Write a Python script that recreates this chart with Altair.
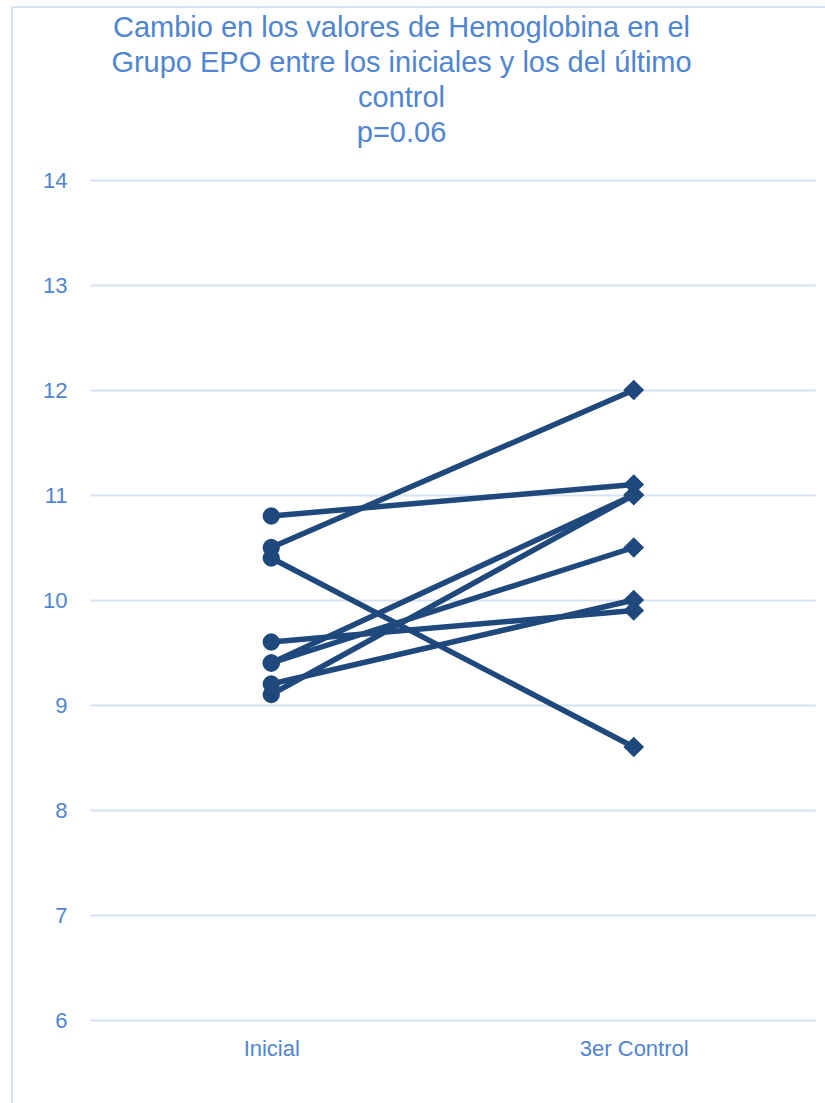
import altair as alt
import pandas as pd

# Hemoglobin (g/dL) per patient of the EPO group: baseline and last control
momentos = ["Inicial", "3er Control"]
inicial = [10.8, 10.5, 10.4, 9.6, 9.4, 9.4, 9.2, 9.1]
control3 = [11.1, 12.0, 8.6, 9.9, 11.0, 10.5, 10.0, 11.0]
y_ticks = [6, 7, 8, 9, 10, 11, 12, 13, 14]

titulo = [
    "Cambio en los valores de Hemoglobina en el",
    "Grupo EPO entre los iniciales y los del último",
    "control",
    "p=0.06",
]

rows = []
for i, (a, b) in enumerate(zip(inicial, control3)):
    rows.append({"paciente": i, "momento": momentos[0], "hb": a})
    rows.append({"paciente": i, "momento": momentos[1], "hb": b})
df = pd.DataFrame(rows)

LINE = "#1f497d"
TEXT = "#4f85d1"
GRID = "#d6e2f3"
FONT = "Liberation Sans"

x = alt.X(
    "momento:N",
    sort=momentos,
    scale=alt.Scale(type="point", padding=0.5),
    axis=alt.Axis(
        title=None, labelAngle=0, ticks=False, domain=False, grid=False,
        labelFontSize=22, labelColor=TEXT, labelFont=FONT, labelPadding=18,
    ),
)
y = alt.Y(
    "hb:Q",
    scale=alt.Scale(domain=[6, 14], nice=False, zero=False),
    axis=alt.Axis(
        title=None, values=y_ticks, ticks=False, domain=False, grid=True,
        gridColor=GRID, gridWidth=2, labelFontSize=22, labelColor=TEXT,
        labelFont=FONT, labelPadding=23,
    ),
)

base = alt.Chart(df)

# light outer border around the whole chart
frame = base.mark_rect(filled=False, stroke=GRID, strokeWidth=2).encode(
    x=alt.value(-78), x2=alt.value(760), y=alt.value(-173), y2=alt.value(960)
).transform_filter(alt.datum.paciente == 0).transform_filter(
    alt.datum.momento == momentos[0]
)

lines = base.mark_line(color=LINE, strokeWidth=5.5).encode(
    x=x, y=y, detail="paciente:N", order=alt.Order("momento:N", sort="descending")
)

start = base.transform_filter(alt.datum.momento == momentos[0]).mark_point(
    shape="circle", filled=True, color=LINE, size=300, opacity=1
).encode(x=x, y=y)

end = base.transform_filter(alt.datum.momento == momentos[1]).mark_point(
    shape="diamond", filled=True, color=LINE, size=430, opacity=1
).encode(x=x, y=y)

chart = (
    alt.layer(frame, lines, start, end)
    .properties(
        width=725,
        height=840,
        autosize=alt.AutoSizeParams(type="none"),
        padding={"left": 90, "top": 180, "right": 10, "bottom": 83},
        title=alt.TitleParams(
            text=titulo,
            font=FONT,
            fontSize=29,
            fontWeight="normal",
            color=TEXT,
            lineHeight=35,
            anchor="middle",
            frame="group",
            dx=-51,
            offset=-142,
        ),
    )
    .configure(background="white")
    .configure_view(strokeWidth=0, stroke="transparent")
)

chart.save("out.html", embed_options={"renderer": "svg", "actions": False})
